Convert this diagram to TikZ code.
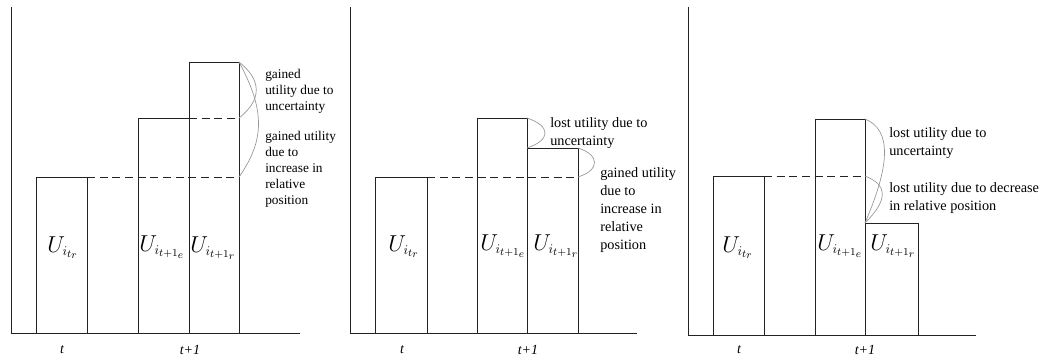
\documentclass[tikz,border=0pt]{standalone}
\usepackage{fontspec}
\setmainfont{Liberation Serif}
\DeclareMathSizes{19}{19}{10}{8}
\usepackage{tikz}
\definecolor{ufBlack}{RGB}{35,35,35}
\definecolor{ufGray}{RGB}{150,150,150}

\begin{document}
\begin{tikzpicture}[x=0.75pt,y=-0.75pt,
  ufBar/.style={draw=ufBlack, line width=0.6pt},
  ufAxis/.style={draw=ufBlack, line width=0.6pt},
  ufDash/.style={ufBlack, line width=0.6pt, dash pattern=on 6pt off 3.5pt},
  ufCurve/.style={ufGray, line width=0.5pt},
  ufNote/.style={anchor=north west, inner sep=0pt, align=left, font=\fontsize{10}{12}\selectfont},
  ufWide/.style={ufNote, font=\fontsize{10.7}{13.5}\selectfont},
  ufVal/.style={anchor=base west, inner sep=0pt, font=\fontsize{19}{22}\selectfont},
  ufTick/.style={inner sep=0pt, font=\fontsize{10.5}{12}\selectfont\itshape}]
  \useasboundingbox (0,0) rectangle (1042,360);

  % Panel 1: gain from both effects
  \draw[ufAxis] (11,7) -- (11,333) -- (300,333);
  \draw[ufBar] (36,177) rectangle (87,333);
  \draw[ufBar] (138,118) rectangle (189,333);
  \draw[ufBar] (189,62) rectangle (239,333);
  \draw[ufDash] (87,177) -- (239,177);
  \draw[ufDash] (189,118) -- (239,118);
  \draw[ufCurve] (239,62) .. controls (262,80) and (262,100) .. (239,118);
  \draw[ufCurve] (239,62) .. controls (265,110) and (265,140) .. (239,177);
  \node[ufVal] (valA1) at (47,252) {$U_{i_{t_r}}$};
  \node[ufVal] (valA2) at (139,251) {$U_{i_{t+1_e}}$};
  \node[ufVal] (valA3) at (190,252) {$U_{i_{t+1_r}}$};
  \node[ufNote] (noteA1) at (265,69) {gained\\utility due to\\uncertainty};
  \node[ufNote] (noteA2) at (265,131) {gained utility\\due to\\increase in\\relative\\position};
  \node[ufTick] (tickA1) at (62,350) {t};
  \node[ufTick] (tickA2) at (190,350) {t+1};

  % Panel 2: lost to uncertainty, gained in position
  \draw[ufAxis] (350,7) -- (350,333) -- (637,333);
  \draw[ufBar] (375,177) rectangle (427,333);
  \draw[ufBar] (477,118) rectangle (527,333);
  \draw[ufBar] (527,148) rectangle (578,333);
  \draw[ufDash] (427,177) -- (578,177);
  \draw[ufCurve] (527,118) .. controls (551,126) and (551,140) .. (527,148);
  \draw[ufCurve] (578,148) .. controls (600,155) and (600,170) .. (578,177);
  \node[ufVal] (valB1) at (388,251) {$U_{i_{t_r}}$};
  \node[ufVal] (valB2) at (480,250) {$U_{i_{t+1_e}}$};
  \node[ufVal] (valB3) at (533,250) {$U_{i_{t+1_r}}$};
  \node[ufWide] (noteB1) at (550,117) {lost utility due to\\uncertainty};
  \node[ufWide] (noteB2) at (600,167) {gained utility\\due to\\increase in\\relative\\position};
  \node[ufTick] (tickB1) at (402,350) {t};
  \node[ufTick] (tickB2) at (528,350) {t+1};

  % Panel 3: loss from both effects
  \draw[ufAxis] (688,7) -- (688,335) -- (976,335);
  \draw[ufBar] (713,176) rectangle (764,335);
  \draw[ufBar] (815,119) rectangle (865,335);
  \draw[ufBar] (865,223) rectangle (918,335);
  \draw[ufDash] (764,176) -- (865,176);
  \draw[ufCurve] (865,119) .. controls (892,130) and (890,165) .. (865,223);
  \draw[ufCurve] (865,176) .. controls (888,185) and (888,200) .. (865,223);
  \node[ufVal] (valC1) at (722,252) {$U_{i_{t_r}}$};
  \node[ufVal] (valC2) at (817,250) {$U_{i_{t+1_e}}$};
  \node[ufVal] (valC3) at (870,250) {$U_{i_{t+1_r}}$};
  \node[ufWide] (noteC1) at (889,127) {lost utility due to\\uncertainty};
  \node[ufWide] (noteC2) at (889,182) {lost utility due to decrease\\in relative position};
  \node[ufTick] (tickC1) at (739,350) {t};
  \node[ufTick] (tickC2) at (865,350) {t+1};
\end{tikzpicture}
\end{document}
